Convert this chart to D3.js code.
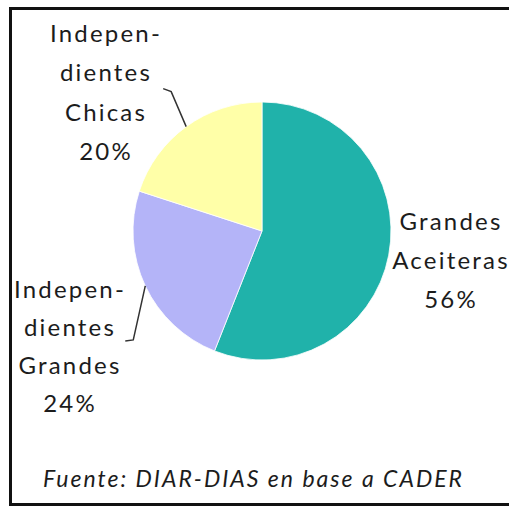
<!DOCTYPE html>
<html>
<head>
<meta charset="utf-8">
<script src="https://cdnjs.cloudflare.com/ajax/libs/d3/7.8.5/d3.min.js"></script>
<style>
  html, body { margin: 0; padding: 0; background: #fff; overflow: hidden; }
  svg { display: block; }
  text { font-family: Lato, 'Open Sans', sans-serif; fill: #1c1c1c; }
</style>
</head>
<body>
<div id="graf"></div>
<script>
// Torta de participacion por tipo de empresa

// datos
categorias = ['Grandes Aceiteras', 'Independientes Grandes', 'Independientes Chicas']
valores    = [56, 24, 20]
etiquetas  = [
  ['Grandes', 'Aceiteras', '56%'],
  ['Indepen-', 'dientes', 'Grandes', '24%'],
  ['Indepen-', 'dientes', 'Chicas', '20%']
]
colores    = ['#20B2AA', '#B4B4F8', '#FFFFA8']
fuente     = 'Fuente: DIAR-DIAS en base a CADER'

ancho_total = 509
alto_total  = 507

svg = d3.select('#graf').append('svg')
        .attr('width', ancho_total)
        .attr('height', alto_total)

// marco
svg.append('rect')
  .attr('x', 10.5)
  .attr('y', 8.5)
  .attr('width', 510)
  .attr('height', 496)
  .attr('fill', 'none')
  .attr('stroke', '#111')
  .attr('stroke-width', 3)

cx = 262
cy = 231
radio = 129

g = svg.append('g')
        .attr('transform', `translate(${cx}, ${cy})`)

pie = d3.pie().sort(null).value(d => d)
arcos = pie(valores)

arc = d3.arc().innerRadius(0).outerRadius(radio)
borde = d3.arc().innerRadius(radio).outerRadius(radio)

g.selectAll('path')
  .data(arcos)
  .enter()
  .append('path')
    .attr('d', arc)
    .attr('fill', (d, i) => colores[i])
    .attr('stroke', '#fff')
    .attr('stroke-width', 0.8)

// posicion de las etiquetas (centro x, primera linea y)
posEtiq = [
  { x: 451, y: 230 },
  { x: 70,  y: 298 },
  { x: 106, y: 42 }
]
interlinea = [39, 38, 39.3]

// lineas guia (codo y punta relativos al borde de la torta)
guias = [
  null,
  { codo: [-12, 54], punta: [-20, 55] },
  { codo: [-15, -35], punta: [-23, -38] }
]

arcos.forEach((d, i) => {
  if (!guias[i]) return
  p = borde.centroid(d)
  codo = [p[0] + guias[i].codo[0], p[1] + guias[i].codo[1]]
  punta = [p[0] + guias[i].punta[0], p[1] + guias[i].punta[1]]
  g.append('path')
    .attr('d', d3.line()([p, codo, punta]))
    .attr('fill', 'none')
    .attr('stroke', '#333')
    .attr('stroke-width', 1.5)
})

etiquetas.forEach((lineas, i) => {
  t = svg.append('text')
        .attr('text-anchor', 'middle')
        .attr('font-size', '24px')
        .attr('letter-spacing', '2.2px')
  lineas.forEach((l, j) => {
    t.append('tspan')
      .attr('x', posEtiq[i].x)
      .attr('y', posEtiq[i].y + j * interlinea[i])
      .text(l)
  })
})

svg.append('text')
  .attr('x', 43)
  .attr('y', 487)
  .attr('font-size', '23px')
  .attr('font-style', 'italic')
  .attr('textLength', 419)
  .attr('lengthAdjust', 'spacing')
  .text(fuente)
</script>
</body>
</html>
